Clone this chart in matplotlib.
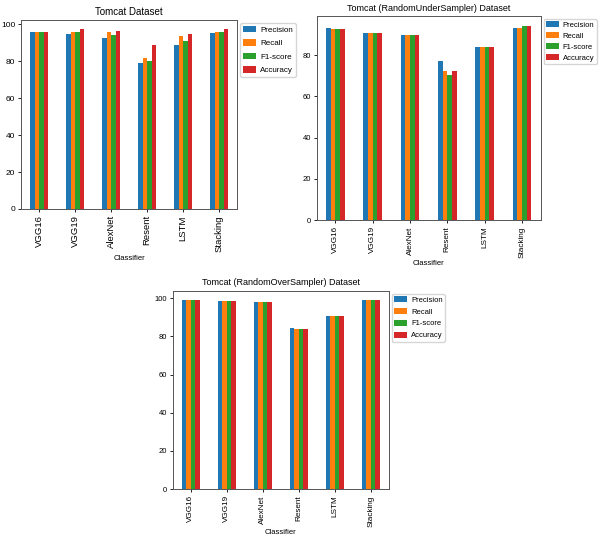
import matplotlib
matplotlib.use("Agg")
import matplotlib.pyplot as plt
import numpy as np
import pandas as pd

classifiers = ["VGG16", "VGG19", "AlexNet", "Resent", "LSTM", "Stacking"]
metrics = ["Precision", "Recall", "F1-score", "Accuracy"]

# Tomcat Dataset
orig_precision = [96.0, 94.6, 92.3, 79.1, 89.0, 95.0]
orig_recall = [96.0, 96.0, 95.5, 81.5, 93.5, 96.0]
orig_f1 = [96.0, 95.5, 94.1, 80.0, 90.8, 95.5]
orig_accuracy = [96.0, 97.3, 96.4, 88.7, 94.6, 97.3]

# Tomcat (RandomUnderSampler) Dataset
under_precision = [93.0, 90.6, 89.9, 77.1, 83.9, 93.3]
under_recall = [92.7, 90.6, 89.6, 72.1, 83.9, 93.3]
under_f1 = [92.7, 90.6, 89.6, 70.3, 83.9, 94.2]
under_accuracy = [92.7, 90.6, 89.6, 72.1, 83.9, 94.2]

# Tomcat (RandomOverSampler) Dataset
over_precision = [98.9, 98.6, 97.9, 84.5, 90.8, 98.9]
over_recall = [98.9, 98.6, 97.9, 84.0, 90.8, 98.9]
over_f1 = [98.9, 98.6, 97.9, 84.0, 90.8, 98.9]
over_accuracy = [98.9, 98.6, 97.9, 84.0, 90.8, 98.9]

titles = ["Tomcat Dataset", "Tomcat (RandomUnderSampler) Dataset",
          "Tomcat (RandomOverSampler) Dataset"]

datasets = [
    [orig_precision, orig_recall, orig_f1, orig_accuracy],
    [under_precision, under_recall, under_f1, under_accuracy],
    [over_precision, over_recall, over_f1, over_accuracy],
]

plt.rcParams["font.family"] = ["Liberation Sans", "DejaVu Sans"]

fig = plt.figure(figsize=(6.0, 5.41), dpi=100)
positions = [
    [0.035, 0.6137, 0.36, 0.349],
    [0.528, 0.5933, 0.373, 0.377],
    [0.288, 0.0961, 0.36, 0.366],
]
ytick_sizes = [6.0, 5.5, 5.5]
xtick_sizes = [6.8, 5.9, 5.9]
title_sizes = [7, 6.5, 6.5]
legend_sizes = [5.8, 5.5, 5.5]
legend_spacing = [0.7, 0.45, 0.55]

for pos, title, data, yts, xts, tts, lfs, lsp in zip(
        positions, titles, datasets, ytick_sizes, xtick_sizes,
        title_sizes, legend_sizes, legend_spacing):
    ax = fig.add_axes(pos)
    df = pd.DataFrame({m: v for m, v in zip(metrics, data)}, index=classifiers)
    df.index.name = "Classifier"
    df.plot.bar(ax=ax)
    ax.set_title(title, fontsize=tts, pad=4)
    ax.set_xlabel("Classifier", fontsize=5.5, labelpad=2)
    ax.tick_params(axis="y", labelsize=yts, length=2.5, width=0.6, pad=1.5)
    ax.tick_params(axis="x", labelsize=xts, length=2.5, width=0.6, pad=2)
    for sp in ax.spines.values():
        sp.set_linewidth(0.7)
        sp.set_color("#555555")
    ax.legend(loc="upper left", bbox_to_anchor=(1.0, 1.0), fontsize=lfs,
              handlelength=1.7, handleheight=0.8, borderpad=0.3,
              labelspacing=lsp, handletextpad=0.5, borderaxespad=0.4,
              framealpha=0.8)

fig.savefig("out.png", dpi=100)
